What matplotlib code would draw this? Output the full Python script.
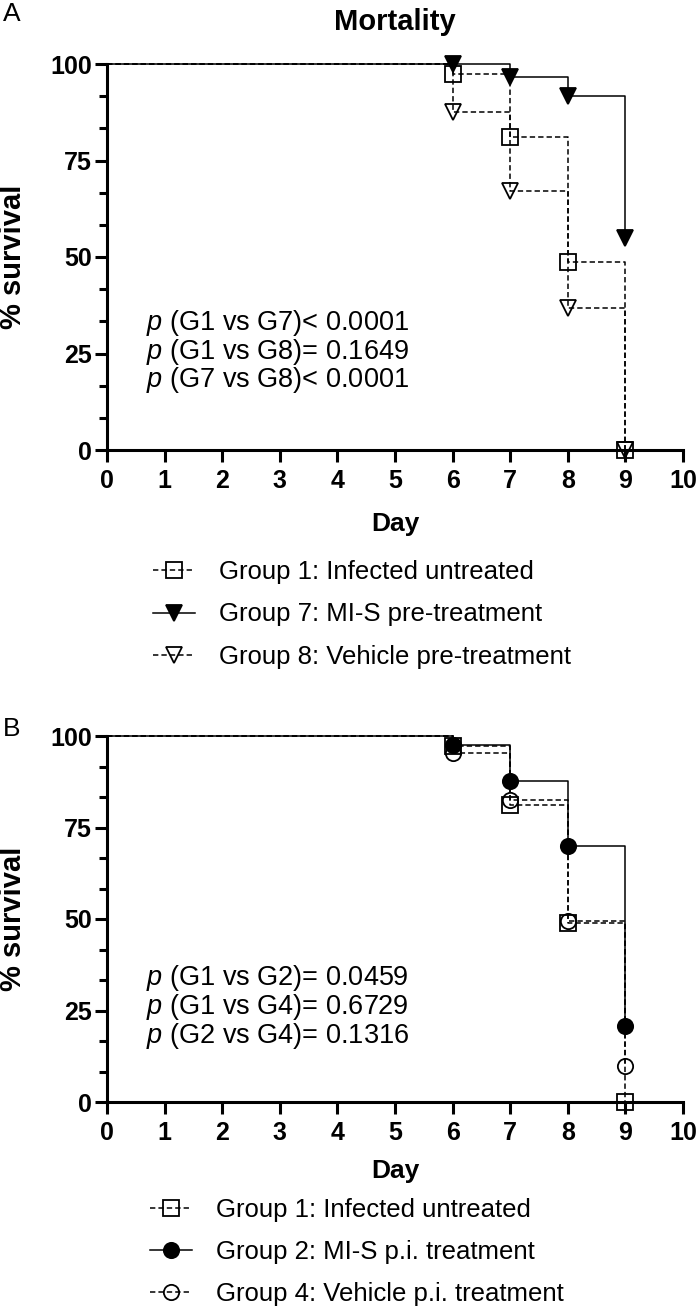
import matplotlib
matplotlib.use('Agg')
import matplotlib.pyplot as plt
from matplotlib.lines import Line2D
from matplotlib.ticker import MultipleLocator

plt.rcParams['font.family'] = ['Liberation Sans', 'DejaVu Sans']
plt.rcParams['mathtext.fontset'] = 'custom'
plt.rcParams['mathtext.rm'] = 'Liberation Sans'
plt.rcParams['mathtext.it'] = 'Liberation Sans:italic'

# survival data (% survival at each day)
days = [0, 6, 7, 8, 9]

# panel A
g1_surv = [100, 97.3, 81.2, 48.8, 0]
g7_surv = [100, 100, 96.7, 91.7, 55.0]
g8_surv = [100, 87.6, 67.1, 36.9, 0]

# panel B
g1b_surv = [100, 97.3, 81.2, 48.8, 0]
g2_surv = [100, 97.5, 87.7, 70.0, 20.9]
g4_surv = [100, 95.3, 82.4, 49.5, 9.9]

labels_a = ['Group 1: Infected untreated',
            'Group 7: MI-S pre-treatment',
            'Group 8: Vehicle pre-treatment']
labels_b = ['Group 1: Infected untreated',
            'Group 2: MI-S p.i. treatment',
            'Group 4: Vehicle p.i. treatment']

p_text_a = [r'$\mathit{p}$ (G1 vs G7)< 0.0001',
            r'$\mathit{p}$ (G1 vs G8)= 0.1649',
            r'$\mathit{p}$ (G7 vs G8)< 0.0001']
p_text_b = [r'$\mathit{p}$ (G1 vs G2)= 0.0459',
            r'$\mathit{p}$ (G1 vs G4)= 0.6729',
            r'$\mathit{p}$ (G2 vs G4)= 0.1316']

x_ticks = list(range(0, 11))
y_ticks = [0, 25, 50, 75, 100]

W, H = 700, 1311
DASH = (3.5, 2.0)
LW = 1.1


def fy(y):
    return 1 - y / H


def draw_curve(ax, surv, marker, filled, dashed, ms):
    ls = (0, DASH) if dashed else '-'
    ax.step(days, surv, where='post', color='black', lw=LW, linestyle=ls,
            clip_on=False, zorder=3)
    ax.plot(days[1:], surv[1:], linestyle='none', marker=marker, ms=ms,
            mfc='black' if filled else 'none', mec='black', mew=1.3,
            clip_on=False, zorder=4)
    return Line2D([], [], color='black', lw=LW, linestyle=ls, marker=marker,
                  ms=ms, mfc='black' if filled else 'none', mec='black',
                  mew=1.3)


def style_axes(ax):
    ax.set_xlim(0, 10)
    ax.set_ylim(0, 100)
    for side in ['top', 'right']:
        ax.spines[side].set_visible(False)
    for side in ['left', 'bottom']:
        ax.spines[side].set_linewidth(2.2)
    ax.set_xticks(x_ticks)
    ax.set_xticklabels([str(t) for t in x_ticks], fontweight='bold')
    ax.set_yticks(y_ticks)
    ax.set_yticklabels([str(t) for t in y_ticks], fontweight='bold')
    ax.yaxis.set_minor_locator(MultipleLocator(25 / 3))
    ax.tick_params(axis='both', which='major', length=8.5, width=2.2,
                   labelsize=18)
    ax.tick_params(axis='x', pad=5.5)
    ax.tick_params(axis='y', pad=2.5)
    ax.tick_params(axis='y', which='minor', length=5.5, width=2.2)
    ax.set_ylabel('% survival', fontweight='bold', fontsize=21)
    ax.yaxis.set_label_coords(-0.163, 0.5)
    ax.yaxis.label.set_va('center')


def add_legend(handles, labels, x, y_top, spacing):
    fig.legend(handles, labels, loc='upper left',
               bbox_to_anchor=(x / W, fy(y_top)), frameon=False,
               fontsize=18.5, borderpad=0, borderaxespad=0,
               handlelength=1.65, handletextpad=0.9, labelspacing=spacing)


fig = plt.figure(figsize=(W / 100, H / 100), dpi=100)

# panel A
ax_a = fig.add_axes([107 / W, fy(450), 576 / W, 386 / H])
style_axes(ax_a)
h1 = draw_curve(ax_a, g1_surv, 's', False, True, 12)
h8 = draw_curve(ax_a, g8_surv, 'v', False, True, 11)
h7 = draw_curve(ax_a, g7_surv, 'v', True, False, 11.5)
ax_a.set_xlabel('Day', fontweight='bold', fontsize=19)
ax_a.xaxis.set_label_coords(0.5, (450 - 524) / 386)
ax_a.xaxis.label.set_va('center')
for txt, yy in zip(p_text_a, [323, 352, 380]):
    ax_a.text((146 - 107) / 576, (450 - yy) / 386, txt, fontsize=19.5,
              va='center', ha='left', transform=ax_a.transAxes)
add_legend([h1, h7, h8], labels_a, 153, 560, 0.72)

fig.text(395 / W, fy(22), 'Mortality', fontweight='bold', fontsize=21,
         ha='center', va='center')
fig.text(12 / W, fy(14), 'A', fontsize=19, ha='center', va='center')

# panel B
ax_b = fig.add_axes([107 / W, fy(1102), 576 / W, 366 / H])
style_axes(ax_b)
g1h = draw_curve(ax_b, g1b_surv, 's', False, True, 12)
g4h = draw_curve(ax_b, g4_surv, 'o', False, True, 11)
g2h = draw_curve(ax_b, g2_surv, 'o', True, False, 11)
ax_b.set_xlabel('Day', fontweight='bold', fontsize=19)
ax_b.xaxis.set_label_coords(0.5, (1102 - 1171) / 366)
ax_b.xaxis.label.set_va('center')
for txt, yy in zip(p_text_b, [978, 1007, 1036]):
    ax_b.text((146 - 107) / 576, (1102 - yy) / 366, txt, fontsize=19.5,
              va='center', ha='left', transform=ax_b.transAxes)
add_legend([g1h, g2h, g4h], labels_b, 150, 1198, 0.70)

fig.text(12 / W, fy(729), 'B', fontsize=19, ha='center', va='center')

fig.savefig('out.png', dpi=100)
